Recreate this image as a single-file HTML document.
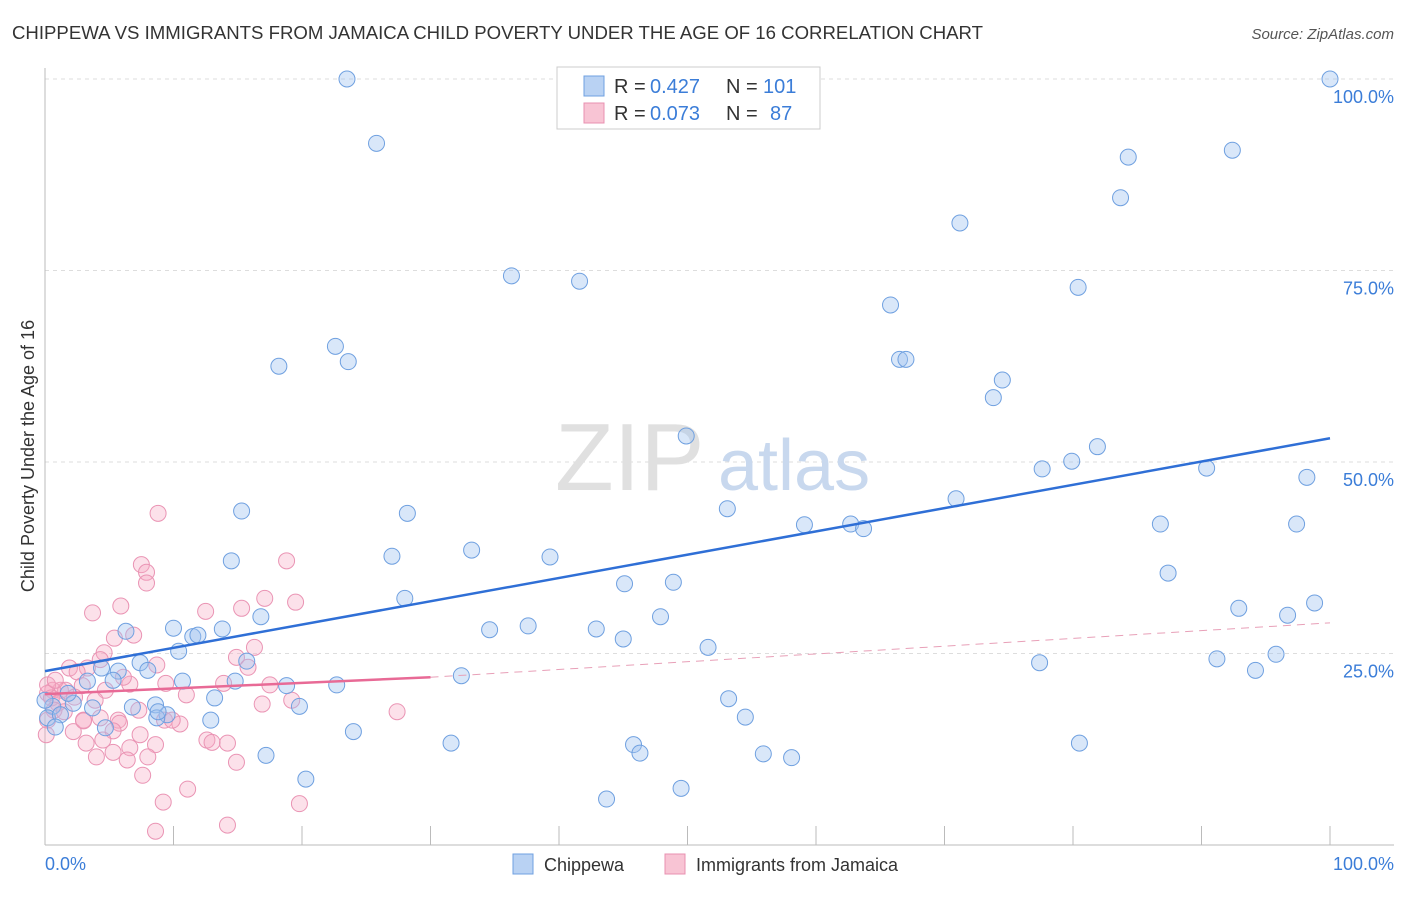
<!DOCTYPE html>
<html><head><meta charset="utf-8"><style>
body{margin:0;background:#fff;font-family:"Liberation Sans",sans-serif}
svg text{font-family:"Liberation Sans",sans-serif}
</style></head><body>
<svg id="chart" width="1406" height="892" xmlns="http://www.w3.org/2000/svg">
<text x="12" y="39" font-size="18" fill="#333" textLength="971" lengthAdjust="spacingAndGlyphs">CHIPPEWA VS IMMIGRANTS FROM JAMAICA CHILD POVERTY UNDER THE AGE OF 16 CORRELATION CHART</text>
<text x="1394" y="39" font-size="15" fill="#555" font-style="italic" text-anchor="end">Source: ZipAtlas.com</text>
<g id="grid"></g>
<text x="555" y="490" font-size="96" fill="#e0e0e0" font-family="Liberation Serif">ZIP</text>
<text x="718" y="490" font-size="72" fill="#c8d8ee">atlas</text>
<line x1="45" y1="68" x2="45" y2="845" stroke="#bbb"/>
<line x1="45" y1="845" x2="1394" y2="845" stroke="#bbb"/>
<text transform="translate(34,456) rotate(-90)" font-size="18" fill="#333" text-anchor="middle">Child Poverty Under the Age of 16</text>
<text x="45" y="870" font-size="18" fill="#3b7dd8">0.0%</text>
<text x="1394" y="870" font-size="18" fill="#3b7dd8" text-anchor="end">100.0%</text>
<g id="pts"></g>
<g id="lines"></g>
<g>
<rect x="557" y="67" width="263" height="62" fill="#fff" stroke="#ccc"/>
<rect x="584" y="76" width="20" height="20" fill="#b9d2f3" stroke="#6fa0e0"/>
<rect x="584" y="103" width="20" height="20" fill="#f8c4d4" stroke="#e890b0"/>
<text y="93" font-size="20" fill="#333"><tspan x="614">R = </tspan><tspan x="650" fill="#3b7dd8">0.427</tspan><tspan x="726">N = </tspan><tspan x="763" fill="#3b7dd8">101</tspan></text>
<text y="120" font-size="20" fill="#333"><tspan x="614">R = </tspan><tspan x="650" fill="#3b7dd8">0.073</tspan><tspan x="726">N = </tspan><tspan x="770" fill="#3b7dd8">87</tspan></text>
</g>
<g>
<rect x="513" y="854" width="20" height="20" fill="#b9d2f3" stroke="#6fa0e0"/>
<text x="544" y="871" font-size="18" fill="#333">Chippewa</text>
<rect x="665" y="854" width="20" height="20" fill="#f8c4d4" stroke="#e890b0"/>
<text x="696" y="871" font-size="18" fill="#333">Immigrants from Jamaica</text>
</g>
</svg>
<script>
const yTicks=[25,50,75,100];
const yTickLabels=["25.0%","50.0%","75.0%","100.0%"];
const xTicks=[0,10,20,30,40,50,60,70,80,90,100];
const bluePx=[[347,79],[1330,79],[377,143],[1128,157],[1232,150],[1121,198],[960,223],[511,276],[580,281],[1078,287],[890,305],[279,366],[335,346],[348,362],[899,359],[906,359],[1002,380],[993,398],[686,436],[1097,447],[1072,461],[1042,469],[1206,468],[1307,477],[956,499],[241,511],[407,513],[727,509],[804,525],[851,524],[864,529],[1160,524],[1297,524],[471,550],[392,556],[550,557],[231,561],[1168,573],[405,598],[625,584],[674,582],[1239,608],[1315,603],[1287,615],[661,617],[261,617],[528,626],[489,630],[596,629],[623,639],[126,631],[173,628],[193,637],[198,635],[222,629],[708,647],[178,651],[247,661],[140,663],[1040,663],[1217,659],[1276,654],[1256,670],[461,676],[102,668],[118,671],[148,670],[182,681],[235,681],[287,686],[337,685],[113,680],[88,681],[215,698],[728,699],[299,706],[155,705],[93,708],[73,703],[53,706],[133,707],[167,715],[745,717],[211,720],[157,718],[48,718],[60,715],[354,732],[106,728],[55,727],[451,743],[633,745],[640,753],[1080,743],[763,754],[791,758],[266,755],[306,779],[606,799],[681,788],[45,700],[68,693],[158,712]];
const pinkPx=[[158,513],[141,565],[146,572],[147,583],[287,561],[121,606],[93,613],[206,611],[242,608],[265,598],[296,602],[134,635],[115,638],[254,647],[237,657],[248,667],[157,665],[104,653],[100,660],[87,668],[70,668],[77,672],[82,686],[130,684],[60,690],[65,690],[53,690],[48,693],[52,698],[58,703],[75,697],[105,690],[124,677],[166,683],[186,695],[224,683],[262,704],[292,700],[54,710],[64,712],[83,720],[100,718],[118,720],[120,723],[139,710],[165,720],[113,731],[140,735],[73,732],[86,743],[103,740],[130,748],[155,745],[207,740],[228,743],[397,712],[83,721],[96,757],[113,752],[127,760],[148,757],[237,762],[143,775],[187,789],[163,802],[299,804],[228,825],[156,831],[48,685],[55,680],[47,720],[46,735],[180,724],[172,720],[212,742],[270,685],[95,700]];
const blueX=bluePx.map(p=>+((p[0]-45)/12.85).toFixed(1));
const blueY=bluePx.map(p=>+((845-p[1])/7.66).toFixed(1));
const pinkX=pinkPx.map(p=>+((p[0]-45)/12.85).toFixed(1));
const pinkY=pinkPx.map(p=>+((845-p[1])/7.66).toFixed(1));
const blueTrend=[22.7,53.1];
const pinkTrend=[19.7,21.9,29.0];
const sx=v=>45+v*12.85, sy=v=>845-v*7.66;
const NS="http://www.w3.org/2000/svg";
function mk(t,a,p){const e=document.createElementNS(NS,t);for(const k in a)e.setAttribute(k,a[k]);p.appendChild(e);return e;}
const grid=document.getElementById('grid');
yTicks.forEach((v,i)=>{
 const l=mk('line',{x1:45,x2:1394,y1:sy(v),y2:sy(v),stroke:'#ddd','stroke-dasharray':'4,4'},grid);
 
 
 const t=mk('text',{x:1394,y:sy(v)+24,'font-size':18,fill:'#3b7dd8','text-anchor':'end'},grid);
 t.textContent=yTickLabels[i];
 
 
});
xTicks.forEach(v=>{
 const l=mk('line',{x1:sx(v),x2:sx(v),y1:826,y2:845,stroke:'#bbb'},grid);
 
 
});
const pts=document.getElementById('pts');
pinkX.forEach((x,i)=>{
 const c=mk('circle',{cx:sx(x),cy:sy(pinkY[i]),r:8,fill:'rgba(245,170,195,0.35)',stroke:'#ea94b4','stroke-width':1},pts);
 
 
});
blueX.forEach((x,i)=>{
 const c=mk('circle',{cx:sx(x),cy:sy(blueY[i]),r:8,fill:'rgba(160,195,240,0.4)',stroke:'#6fa0e0','stroke-width':1},pts);
 
 
});
const ln=document.getElementById('lines');
const b=mk('line',{x1:sx(0),y1:sy(blueTrend[0]),x2:sx(100),y2:sy(blueTrend[1]),stroke:'#2f6fd6','stroke-width':2.5},ln);


const p1=mk('line',{x1:sx(0),y1:sy(pinkTrend[0]),x2:sx(30),y2:sy(pinkTrend[1]),stroke:'#e86a96','stroke-width':2.5},ln);


const p2=mk('line',{x1:sx(30),y1:sy(pinkTrend[1]),x2:sx(100),y2:sy(pinkTrend[2]),stroke:'#e8a0b8','stroke-width':1,'stroke-dasharray':'8,6'},ln);


</script>
</body></html>
